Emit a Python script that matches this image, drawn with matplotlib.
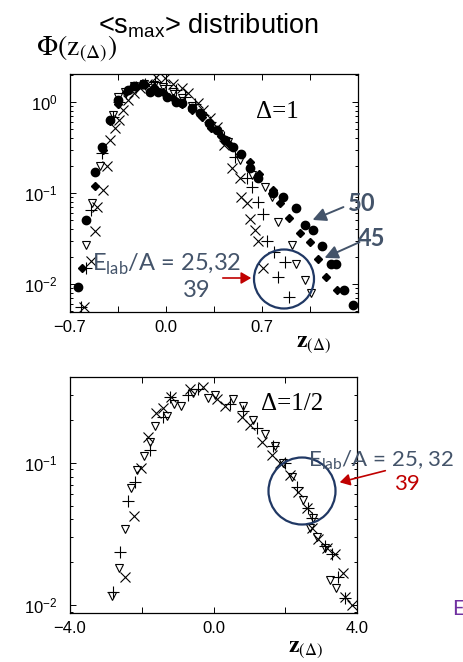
import numpy as np
import matplotlib
matplotlib.use("Agg")
import matplotlib.pyplot as plt
from matplotlib.patches import Ellipse, FancyArrowPatch
from matplotlib.ticker import FixedLocator, FixedFormatter, LogLocator, NullFormatter

plt.rcParams['font.family'] = ['Liberation Sans', 'DejaVu Sans']
plt.rcParams['mathtext.fontset'] = 'stix'

# ---- Delta = 1 panel data ----
d1_e50_x = [-0.64, -0.58, -0.52, -0.47, -0.41, -0.35, -0.28, -0.23, -0.17, -0.12, -0.06, 0.01, 0.07,
            0.12, 0.19, 0.25, 0.31, 0.37, 0.43, 0.49, 0.55, 0.61, 0.67, 0.78, 0.85, 0.95, 1.01,
            1.07, 1.14, 1.20, 1.24, 1.30, 1.36]
d1_e50_y = [0.0093, 0.050, 0.17, 0.32, 0.64, 1.05, 1.35, 1.5, 1.6, 1.3, 1.3, 1.13, 1.0,
            0.97, 0.86, 0.76, 0.59, 0.49, 0.38, 0.32, 0.27, 0.19, 0.146, 0.10, 0.09, 0.068, 0.044,
            0.039, 0.026, 0.0167, 0.0167, 0.0086, 0.0059]

d1_e45_x = [-0.61, -0.52, -0.46, -0.41, -0.35, -0.29, -0.22, -0.15, -0.09, -0.02, 0.05, 0.12, 0.19,
            0.26, 0.33, 0.40, 0.47, 0.54, 0.61, 0.68, 0.78, 0.83, 0.90, 0.98, 1.05, 1.11, 1.17, 1.25]
d1_e45_y = [0.015, 0.12, 0.30, 0.62, 0.95, 1.3, 1.45, 1.55, 1.45, 1.3, 1.1, 0.95, 0.82,
            0.68, 0.52, 0.42, 0.34, 0.27, 0.22, 0.16, 0.108, 0.078, 0.053, 0.036, 0.029, 0.0188,
            0.012, 0.0086]

d1_e25_x = [-0.60, -0.55, -0.52, -0.50, -0.46, -0.43, -0.41, -0.37, -0.34, -0.31, -0.28, -0.23, -0.19,
            -0.14, -0.07, -0.01, 0.05, 0.12, 0.16, 0.23, 0.27, 0.32, 0.37, 0.42, 0.48, 0.54, 0.55,
            0.59, 0.61, 0.65, 0.67, 0.71]
d1_e25_y = [0.0055, 0.018, 0.038, 0.070, 0.108, 0.20, 0.38, 0.52, 0.64, 0.82, 1.05, 1.25, 1.42,
            1.6, 1.9, 1.83, 1.6, 1.42, 1.25, 0.97, 0.82, 0.67, 0.53, 0.34, 0.19, 0.146, 0.09,
            0.078, 0.052, 0.039, 0.030, 0.015]

d1_e32_x = [-0.62, -0.58, -0.55, -0.47, -0.39, -0.34, -0.29, -0.22, -0.15, -0.08, 0.0, 0.07, 0.14,
            0.21, 0.27, 0.32, 0.42, 0.50, 0.59, 0.63, 0.67, 0.71, 0.74, 0.79, 0.87, 0.82, 0.90]
d1_e32_y = [0.0055, 0.015, 0.065, 0.275, 0.68, 1.0, 1.25, 1.45, 1.6, 1.65, 1.55, 1.35, 1.15,
            0.95, 0.72, 0.60, 0.41, 0.25, 0.146, 0.116, 0.080, 0.059, 0.030, 0.0225, 0.0175, 0.012,
            0.0072]

d1_e39_x = [-0.58, -0.54, -0.48, -0.39, -0.35, -0.30, -0.23, -0.16, -0.09, -0.02, 0.05, 0.12, 0.19,
            0.26, 0.33, 0.39, 0.45, 0.54, 0.63, 0.72, 0.77, 0.82, 0.92, 0.95, 1.01, 1.06]
d1_e39_y = [0.027, 0.078, 0.20, 0.72, 1.13, 1.3, 1.5, 1.6, 1.55, 1.45, 1.3, 1.1, 0.9,
            0.7, 0.55, 0.45, 0.36, 0.23, 0.157, 0.116, 0.09, 0.048, 0.027, 0.0167, 0.011, 0.0080]

# ---- Delta = 1/2 panel data ----
d2_e25_x = [-2.47, -2.22, -2.02, -1.83, -1.60, -1.41, -1.18, -0.65, -0.29, 0.10, 0.32, 0.79, 1.01,
            1.35, 1.63, 1.85, 2.13, 2.35, 2.60, 2.74, 2.91, 3.16, 3.38, 3.61, 3.66, 3.86]
d2_e25_y = [0.0158, 0.042, 0.092, 0.152, 0.225, 0.244, 0.29, 0.33, 0.34, 0.28, 0.25, 0.21, 0.185,
            0.14, 0.114, 0.10, 0.082, 0.062, 0.048, 0.035, 0.029, 0.025, 0.023, 0.0168, 0.0114, 0.0100]

d2_e32_x = [-2.80, -2.61, -2.39, -2.19, -1.77, -1.41, -1.21, -0.71, -0.43, 0.46, 0.82, 1.21, 1.66,
            1.99, 2.33, 2.63, 2.74, 3.10, 3.30, 3.47, 3.66]
d2_e32_y = [0.0124, 0.0236, 0.054, 0.073, 0.123, 0.21, 0.29, 0.30, 0.33, 0.26, 0.23, 0.175, 0.13,
            0.10, 0.068, 0.048, 0.041, 0.026, 0.023, 0.0157, 0.0112]

d2_e39_x = [-2.83, -2.63, -2.47, -2.30, -2.13, -1.94, -1.77, -1.63, -1.30, -1.10, -0.91, -0.57, -0.15,
            0.04, 0.54, 0.82, 1.10, 1.43, 1.71, 1.93, 2.18, 2.49, 2.69, 2.77, 2.88, 3.10, 3.24, 3.41]
d2_e39_y = [0.0116, 0.0183, 0.0343, 0.066, 0.089, 0.112, 0.14, 0.18, 0.214, 0.26, 0.25, 0.31, 0.287,
            0.30, 0.28, 0.25, 0.20, 0.158, 0.13, 0.10, 0.080, 0.055, 0.035, 0.041, 0.030, 0.025,
            0.015, 0.0132]

top_xticks = [-0.7, -0.35, 0.0, 0.35, 0.7, 1.05, 1.4]
top_xlabels = ['\u22120.7', '', '0.0', '', '0.7', '', '']
bot_xticks = [-4.0, -2.0, 0.0, 2.0, 4.0]
bot_xlabels = ['\u22124.0', '', '0.0', '', '4.0']

W, H = 463, 662
fig = plt.figure(figsize=(W / 100, H / 100), dpi=100)

def px(x, y):
    # pixel position (from top-left) -> figure fraction
    return x / W, 1 - y / H

ax1 = fig.add_axes([70 / W, 1 - 312 / H, 288 / W, 238 / H])
ax2 = fig.add_axes([70 / W, 1 - 613 / H, 287 / W, 236 / H])

def style_axis(ax, xticks, xlabels, xlim, ylim):
    ax.set_yscale('log')
    ax.set_xlim(*xlim)
    ax.set_ylim(*ylim)
    ax.xaxis.set_major_locator(FixedLocator(xticks))
    ax.xaxis.set_major_formatter(FixedFormatter(xlabels))
    ax.yaxis.set_major_locator(LogLocator(base=10, numticks=10))
    ax.yaxis.set_minor_locator(LogLocator(base=10, subs=np.arange(2, 10), numticks=20))
    ax.yaxis.set_minor_formatter(NullFormatter())
    ax.tick_params(which='both', direction='in', top=True, right=True, width=0.7)
    ax.tick_params(which='major', length=4)
    ax.tick_params(which='minor', length=2)
    ax.tick_params(axis='x', labelsize=12, pad=6)
    ax.tick_params(axis='y', labelsize=12, pad=9)
    for s in ax.spines.values():
        s.set_linewidth(0.9)

mk = dict(linestyle='none', color='black')

ax1.plot(d1_e50_x, d1_e50_y, marker='o', markersize=6, **mk)
ax1.plot(d1_e45_x, d1_e45_y, marker='D', markersize=4.5, **mk)
ax1.plot(d1_e25_x, d1_e25_y, marker='x', markersize=6.5, markeredgewidth=0.8, **mk)
ax1.plot(d1_e32_x, d1_e32_y, marker='+', markersize=8, markeredgewidth=0.8, **mk)
ax1.plot(d1_e39_x, d1_e39_y, marker='v', markersize=6, markerfacecolor='none',
         markeredgewidth=0.8, **mk)
style_axis(ax1, top_xticks, top_xlabels, (-0.7, 1.4), (0.0049, 2.04))

ax2.plot(d2_e25_x, d2_e25_y, marker='x', markersize=6.5, markeredgewidth=0.8, **mk)
ax2.plot(d2_e32_x, d2_e32_y, marker='+', markersize=8, markeredgewidth=0.8, **mk)
ax2.plot(d2_e39_x, d2_e39_y, marker='v', markersize=6, markerfacecolor='none',
         markeredgewidth=0.8, **mk)
style_axis(ax2, bot_xticks, bot_xlabels, (-4.0, 4.0), (0.0088, 0.40))

slate = '#44546a'
navy = '#203864'
red = '#c00000'

# titles and axis labels
fig.text(*px(98, 33), r'<s$_{\mathregular{max}}$> distribution', fontsize=19.5,
         math_fontfamily='dejavusans', va='baseline')
fig.text(*px(36, 56), r'$\Phi(\mathrm{z}_{(\Delta)})$', fontsize=20, va='baseline')
fig.text(*px(296, 347), r'$\mathbf{z}_{(\Delta)}$', fontsize=17, va='baseline')
fig.text(*px(288, 652), r'$\mathbf{z}_{(\Delta)}$', fontsize=17, va='baseline')
fig.text(*px(256, 118), 'Δ=1', fontsize=18, family='Liberation Serif', va='baseline')
fig.text(*px(261, 410), 'Δ=1/2', fontsize=18, family='Liberation Serif', va='baseline')

# annotations, top panel
fig.text(*px(92, 271), r'E$_{\mathregular{lab}}$/A = 25,32', fontsize=17, color=slate,
         family='Lato', math_fontfamily='dejavusans', va='baseline')
fig.text(*px(183, 297), '39', fontsize=17, color=slate, family='Lato', va='baseline')
fig.text(*px(348, 211), '50', fontsize=17, color=slate, family='Lato', weight='bold', va='baseline')
fig.text(*px(358, 246), '45', fontsize=17, color=slate, family='Lato', weight='bold', va='baseline')

fig.patches.append(Ellipse(px(284, 279), 60 / W, 59 / H, transform=fig.transFigure,
                           fill=False, edgecolor=navy, linewidth=1.6))
fig.patches.append(FancyArrowPatch(px(220, 278), px(254, 278), transform=fig.transFigure,
                                   arrowstyle='-|>,head_length=6,head_width=3.5', color=red,
                                   linewidth=1.2))
fig.patches.append(FancyArrowPatch(px(346, 206), px(310, 221), transform=fig.transFigure,
                                   arrowstyle='-|>,head_length=8,head_width=4', color=slate,
                                   linewidth=1.4))
fig.patches.append(FancyArrowPatch(px(362, 241), px(322, 259), transform=fig.transFigure,
                                   arrowstyle='-|>,head_length=8,head_width=4', color=slate,
                                   linewidth=1.4))

# annotations, bottom panel
fig.text(*px(308, 466), r'E$_{\mathregular{lab}}$/A = 25, 32', fontsize=16, color=slate,
         family='Lato', math_fontfamily='dejavusans', va='baseline')
fig.text(*px(394, 490), '39', fontsize=16, color=red, family='Lato', va='baseline')
fig.patches.append(Ellipse(px(302, 491), 67 / W, 67 / H, transform=fig.transFigure,
                           fill=False, edgecolor=navy, linewidth=1.6))
fig.patches.append(FancyArrowPatch(px(388, 470), px(337, 483), transform=fig.transFigure,
                                   arrowstyle='-|>,head_length=6,head_width=3.5', color=red,
                                   linewidth=1.2))

fig.text(*px(452, 615), 'E', fontsize=15, color='#7030a0', family='Lato', va='baseline')

fig.savefig('out.png', dpi=100)
